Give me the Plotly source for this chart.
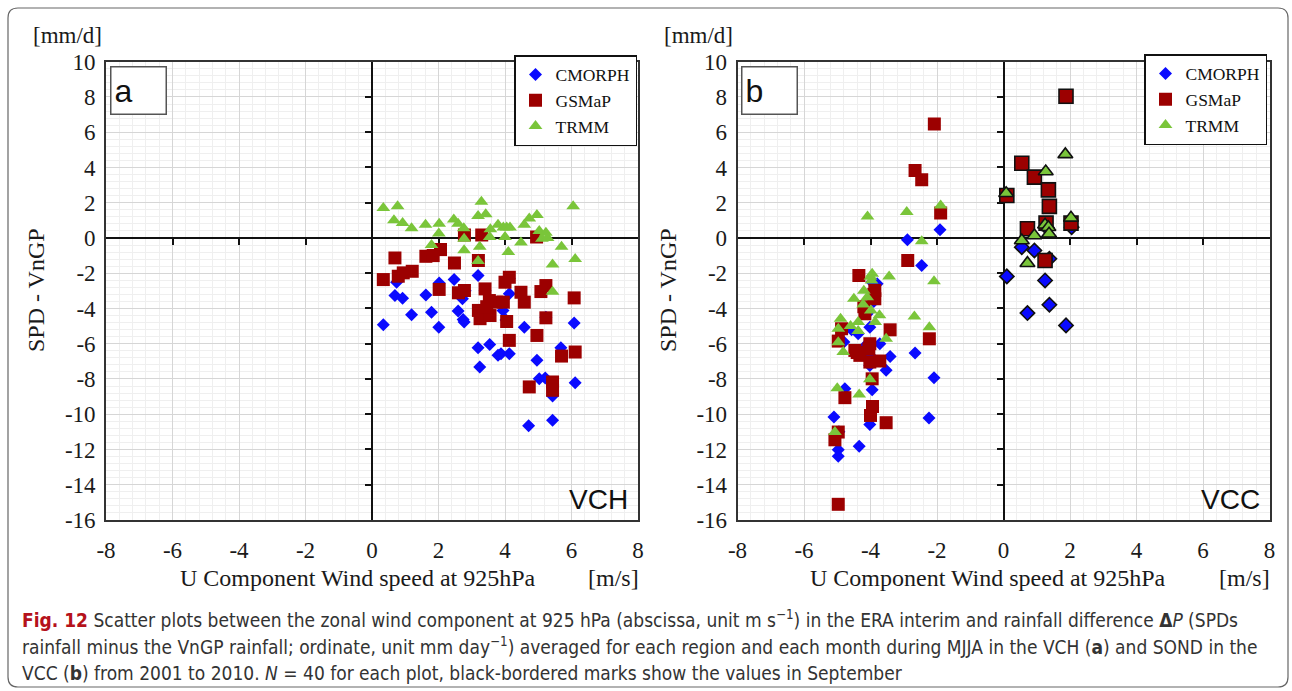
import plotly.graph_objects as go

W, H = 1292, 691

# ---------------- data ----------------
x_tickvals = [-8, -6, -4, -2, 0, 2, 4, 6, 8]
x_ticktext = ["-8", "-6", "-4", "-2", "0", "2", "4", "6", "8"]
y_tickvals = [-16, -14, -12, -10, -8, -6, -4, -2, 0, 2, 4, 6, 8, 10]
y_ticktext = ["-16", "-14", "-12", "-10", "-8", "-6", "-4", "-2", "0", "2", "4", "6", "8", "10"]
series_names = ["CMORPH", "GSMaP", "TRMM"]

# Panel a : VCH, MJJA
a_cmorph_x = [0.34, 0.69, 0.92, 0.74, 1.19, 1.62, 1.79, 2.01, 2.02, 2.47, 2.59, 2.74, 2.77, 2.72,
              3.19, 3.19, 3.54, 3.24, 3.79, 3.94, 3.88, 4.13, 4.13, 4.58, 4.96, 5.68, 5.03, 5.21,
              5.43, 6.08, 6.11, 4.71, 5.43, 4.13, 5.23, 2.80, 3.40, 3.60, 4.03, 5.70]
a_cmorph_y = [-4.92, -3.26, -3.42, -2.51, -4.36, -3.23, -4.21, -5.06, -2.55, -2.36, -4.15, -4.62, -4.77, -3.45,
              -2.13, -6.23, -6.04, -7.32, -6.66, -4.11, -6.57, -6.57, -3.17, -5.06, -6.94, -6.23, -7.98, -7.94,
              -8.96, -4.83, -8.21, -10.66, -10.34, -2.30, -4.50, -3.00, -3.00, -3.60, -4.65, -6.50]
a_gsmap_x = [0.34, 0.69, 0.79, 0.94, 1.21, 1.62, 1.84, 2.06, 2.02, 2.48, 2.60, 2.78, 2.78, 3.30,
             3.20, 3.40, 3.20, 3.25, 3.55, 3.53, 3.75, 3.95, 4.00, 4.05, 4.13, 4.13, 4.48, 4.58,
             5.23, 5.08, 4.95, 5.23, 4.96, 5.70, 6.11, 6.08, 4.73, 5.43, 5.43, 3.45]
a_gsmap_y = [-2.36, -1.13, -2.17, -1.98, -1.89, -1.04, -1.00, -0.66, -2.92, -1.42, -3.11, -2.98, 0.17, 0.17,
             -1.28, -2.89, -4.11, -4.58, -4.40, -3.55, -3.64, -3.64, -2.51, -4.74, -5.81, -2.23, -3.08, -3.64,
             -2.70, -3.04, 0.05, -4.53, -5.53, -6.70, -6.47, -3.40, -8.45, -8.17, -8.64, -3.90]
a_trmm_x = [0.34, 0.77, 0.66, 0.92, 1.19, 1.61, 2.02, 2.01, 1.79, 2.46, 2.59, 2.76, 2.77, 2.77,
            3.29, 3.19, 3.42, 3.24, 3.19, 3.56, 3.54, 3.79, 3.95, 4.00, 4.10, 4.05, 4.15, 4.48,
            4.58, 4.73, 4.96, 5.03, 5.23, 5.11, 5.28, 5.70, 5.43, 5.43, 6.05, 6.11]
a_trmm_y = [1.70, 1.80, 1.00, 0.85, 0.55, 0.75, 0.80, 0.25, -0.40, 1.05, 0.80, 0.55, -0.05, -0.70,
            2.05, 1.25, 1.35, -0.50, -1.30, 0.50, 0.05, 0.75, 0.60, 0.05, -0.80, 0.60, 0.60, -0.25,
            0.75, 1.10, 1.30, 0.40, 0.30, -0.05, 0.00, -0.50, -1.50, -3.05, 1.80, -1.20]

# Panel b : VCC, SOND (Oct, Nov, Dec)
b_cmorph_x = [-2.89, -1.91, -2.46, -4.57, -4.02, -4.37, -3.72, -3.41, -3.53, -4.02, -4.02, -2.66, -2.09, -4.77,
              -3.95, -5.10, -4.02, -2.24, -4.34, -4.97, -4.97, -3.80, -4.10, -4.20, -3.90, -4.80, -4.95, -4.00,
              -3.90, -3.96]
b_cmorph_y = [-0.10, 0.46, -1.56, -5.21, -5.06, -5.43, -6.00, -6.72, -7.51, -6.66, -7.23, -6.53, -7.93, -8.55,
              -8.61, -10.16, -10.58, -10.22, -11.82, -12.01, -12.39, -2.60, -4.30, -6.20, -7.00, -5.90, -11.00, -9.90,
              -3.60, -2.50]
b_gsmap_x = [-2.08, -2.66, -2.46, -1.89, -2.88, -4.35, -3.87, -3.87, -4.17, -4.87, -4.97, -3.41, -2.23, -4.47,
             -4.32, -4.02, -4.02, -3.72, -3.95, -4.77, -3.94, -4.00, -3.53, -4.97, -5.07, -4.97, -4.20, -4.05,
             -4.40, -3.90]
b_gsmap_y = [6.47, 3.83, 3.30, 1.41, -1.28, -2.13, -2.98, -3.45, -4.30, -5.15, -5.85, -5.21, -5.72, -6.38,
             -6.66, -6.00, -7.04, -6.98, -7.99, -9.06, -9.56, -10.07, -10.48, -11.01, -11.45, -15.11, -3.90, -6.30,
             -6.50, -3.20]
b_trmm_x = [-4.09, -2.91, -1.89, -2.46, -2.09, -3.44, -3.95, -3.97, -4.50, -4.10, -4.22, -3.99, -3.73, -3.86,
            -4.90, -4.97, -4.37, -4.37, -4.97, -4.82, -3.53, -2.68, -2.23, -4.02, -4.34, -5.00, -5.07, -4.00,
            -4.20, -4.60]
b_trmm_y = [1.22, 1.47, 1.84, -0.18, -2.45, -2.18, -2.03, -2.41, -3.45, -3.36, -3.78, -4.11, -4.39, -4.77,
            -4.58, -5.15, -4.77, -5.28, -5.91, -6.47, -5.72, -4.45, -5.06, -8.02, -8.88, -8.52, -11.01, -2.20,
            -3.00, -5.00]

# Panel b : September values (black-bordered marks)
b_cmorph_sep_x = [0.55, 0.93, 0.10, 1.25, 1.38, 0.72, 1.88, 2.05, 1.38, 1.30]
b_cmorph_sep_y = [-0.52, -0.71, -2.18, -2.41, -3.79, -4.26, -4.96, 0.61, -1.18, 0.60]
b_gsmap_sep_x = [1.88, 0.55, 0.93, 1.35, 1.38, 0.10, 0.72, 1.28, 2.03, 1.25]
b_gsmap_sep_y = [8.04, 4.24, 3.45, 2.73, 1.79, 2.41, 0.52, 0.84, 0.84, -1.28]
b_trmm_sep_x = [1.86, 1.27, 0.08, 2.03, 1.25, 1.35, 1.37, 0.93, 0.55, 0.72]
b_trmm_sep_y = [4.74, 3.77, 2.54, 1.14, 0.75, 0.61, 0.24, 0.14, -0.14, -1.43]

# ---------------- styles ----------------
SERIF = "Liberation Serif, Times New Roman, serif"
SANS = "Liberation Sans, Arial, sans-serif"
CAPFONT = "DejaVu Sans Condensed, DejaVu Sans, sans-serif"
COLORS = {"CMORPH": "#0a0aff", "GSMaP": "#9c0000", "TRMM": "#7ac53a"}
SYMBOLS = {"CMORPH": "diamond", "GSMaP": "square", "TRMM": "triangle-up"}
SIZES = {"CMORPH": 10, "GSMaP": 13, "TRMM": 12}
XR = [-8, 8]
YR = [-16, 10]


def px(x):
    return x / W


def py(y):
    return 1 - y / H


XA = [px(106), px(638)]
XB = [px(737.5), px(1269.5)]
YD = [py(520), py(61.7)]


def zero_pos(domain, rng):
    return domain[0] + (0 - rng[0]) / (rng[1] - rng[0]) * (domain[1] - domain[0])


def main_x(domain, anchor):
    return dict(domain=domain, range=XR, anchor=anchor, tickmode="array",
                tickvals=x_tickvals, ticktext=x_ticktext,
                showgrid=True, gridcolor="#d6d6d6", gridwidth=1,
                minor=dict(tickmode="linear", tick0=0, dtick=0.4, showgrid=True,
                           gridcolor="#efefef", gridwidth=1, ticks=""),
                showline=True, mirror=True, linecolor="#333333", linewidth=1.6,
                ticks="", zeroline=False, ticklabelstandoff=9, automargin=False,
                tickfont=dict(family=SERIF, size=23, color="#1a1a1a"), fixedrange=True)


def main_y(domain, anchor):
    return dict(domain=domain, range=YR, anchor=anchor, tickmode="array",
                tickvals=y_tickvals, ticktext=y_ticktext,
                showgrid=True, gridcolor="#d6d6d6", gridwidth=1,
                minor=dict(tickmode="linear", tick0=0, dtick=0.4, showgrid=True,
                           gridcolor="#efefef", gridwidth=1, ticks=""),
                showline=True, mirror=True, linecolor="#333333", linewidth=1.6,
                ticks="", zeroline=False, ticklabelstandoff=4, automargin=False,
                tickfont=dict(family=SERIF, size=23, color="#1a1a1a"), fixedrange=True)


def zero_x(overlay, position):
    return dict(overlaying=overlay, anchor="free", position=position, range=XR,
                tickmode="array", tickvals=x_tickvals[1:-1], showticklabels=False,
                ticks="outside", ticklen=6, tickwidth=1.5, tickcolor="#111",
                showline=True, linecolor="#111", linewidth=2, showgrid=False,
                zeroline=False, layer="below traces", fixedrange=True)


def zero_y(overlay, position):
    return dict(overlaying=overlay, anchor="free", position=position, range=YR,
                tickmode="array", tickvals=y_tickvals[1:-1], showticklabels=False,
                ticks="outside", ticklen=6, tickwidth=1.5, tickcolor="#111",
                showline=True, linecolor="#111", linewidth=2, showgrid=False,
                zeroline=False, layer="below traces", fixedrange=True)


fig = go.Figure()

# panel a traces
for name, xs, ys in [("CMORPH", a_cmorph_x, a_cmorph_y),
                     ("GSMaP", a_gsmap_x, a_gsmap_y),
                     ("TRMM", a_trmm_x, a_trmm_y)]:
    fig.add_trace(go.Scatter(x=xs, y=ys, mode="markers", name=name,
                             xaxis="x", yaxis="y", legend="legend",
                             marker=dict(symbol=SYMBOLS[name], size=SIZES[name],
                                         color=COLORS[name], line=dict(width=0))))

# panel b traces
for name, xs, ys, sx, sy in [("CMORPH", b_cmorph_x, b_cmorph_y, b_cmorph_sep_x, b_cmorph_sep_y),
                             ("GSMaP", b_gsmap_x, b_gsmap_y, b_gsmap_sep_x, b_gsmap_sep_y),
                             ("TRMM", b_trmm_x, b_trmm_y, b_trmm_sep_x, b_trmm_sep_y)]:
    fig.add_trace(go.Scatter(x=xs, y=ys, mode="markers", name=name,
                             xaxis="x2", yaxis="y2", legend="legend2",
                             marker=dict(symbol=SYMBOLS[name], size=SIZES[name],
                                         color=COLORS[name], line=dict(width=0))))
    fig.add_trace(go.Scatter(x=sx, y=sy, mode="markers", name=name + " (Sep)",
                             xaxis="x2", yaxis="y2", showlegend=False,
                             marker=dict(symbol=SYMBOLS[name], size=SIZES[name] + 1,
                                         color=COLORS[name], line=dict(width=1.6, color="#111"))))

# empty traces so the zero-crossing axes get drawn
fig.add_trace(go.Scatter(x=[], y=[], xaxis="x3", yaxis="y3", showlegend=False, hoverinfo="skip"))
fig.add_trace(go.Scatter(x=[], y=[], xaxis="x4", yaxis="y4", showlegend=False, hoverinfo="skip"))

legend_style = dict(bgcolor="white", bordercolor="#111", borderwidth=1.5,
                    font=dict(family=SERIF, size=17.5, color="#111"),
                    xanchor="right", yanchor="top", itemwidth=30, tracegroupgap=0)

annotations = []


def add_text(text, x, y, size=20, family=SERIF, xanchor="center", yanchor="middle", angle=0, **kw):
    annotations.append(dict(text=text, x=px(x), y=py(y), xref="paper", yref="paper",
                            xanchor=xanchor, yanchor=yanchor, showarrow=False, textangle=angle,
                            font=dict(family=family, size=size, color=kw.pop("color", "#1a1a1a")), **kw))


for off, vx, xt_c, mps_c, lab in [(0, 36, 358, 613, "a"), (631, 668, 988, 1244, "b")]:
    add_text("[mm/d]", 67 + off, 35, size=23)
    add_text("SPD - VnGP", vx, 290, size=24, angle=-90)
    add_text("U Component Wind speed at 925hPa", xt_c, 578, size=24)
    add_text("[m/s]", mps_c, 578, size=24)
    add_text(lab, 110 + off, 66, size=32, family=SANS, xanchor="left", yanchor="top",
             bordercolor="#555", borderwidth=1.5, borderpad=3, width=48, height=40,
             align="left", bgcolor="white", color="#111")

add_text("VCH", 630, 517, size=28, family=SANS, xanchor="right", yanchor="bottom", color="#111")
add_text("VCC", 1262, 517, size=28, family=SANS, xanchor="right", yanchor="bottom", color="#111")

cap1 = ('<span style="color:#b5121b"><b>Fig. 12</b></span> Scatter plots between the zonal wind component at '
        '925 hPa (abscissa, unit m s<sup>−1</sup>) in the ERA interim and rainfall difference '
        '<b>Δ</b><i>P</i> (SPDs')
cap2 = ('rainfall minus the VnGP rainfall; ordinate, unit mm day<sup>−1</sup>) averaged for each region and '
        'each month during MJJA in the VCH (<b>a</b>) and SOND in the')
cap3 = ('VCC (<b>b</b>) from 2001 to 2010. <i>N</i> = 40 for each plot, black-bordered marks show the values '
        'in September')
add_text(cap1, 20, 619, size=19, family=CAPFONT, xanchor="left", color="#333")
add_text(cap2, 20, 646, size=19, family=CAPFONT, xanchor="left", color="#333")
add_text(cap3, 20, 673, size=19, family=CAPFONT, xanchor="left", color="#333")

# rounded outer frame
L, R, T, B, rad = 8, 1288, 8, 687, 10
rx, ry = rad / W, rad / H
path = (f"M {px(L + rad)},{py(T)} L {px(R - rad)},{py(T)} Q {px(R)},{py(T)} {px(R)},{py(T) - ry} "
        f"L {px(R)},{py(B) + ry} Q {px(R)},{py(B)} {px(R) - rx},{py(B)} "
        f"L {px(L) + rx},{py(B)} Q {px(L)},{py(B)} {px(L)},{py(B) + ry} "
        f"L {px(L)},{py(T) - ry} Q {px(L)},{py(T)} {px(L) + rx},{py(T)} Z")

fig.update_layout(
    width=W, height=H, margin=dict(l=0, r=0, t=0, b=0),
    paper_bgcolor="white", plot_bgcolor="white", showlegend=True,
    xaxis=main_x(XA, "y"), yaxis=main_y(YD, "x"),
    xaxis2=main_x(XB, "y2"), yaxis2=main_y(YD, "x2"),
    xaxis3=zero_x("x", zero_pos(YD, YR)), yaxis3=zero_y("y", zero_pos(XA, XR)),
    xaxis4=zero_x("x2", zero_pos(YD, YR)), yaxis4=zero_y("y2", zero_pos(XB, XR)),
    legend=dict(x=px(637), y=py(55), **legend_style),
    legend2=dict(x=px(1267), y=py(54), **legend_style),
    annotations=annotations,
    shapes=[dict(type="path", path=path, xref="paper", yref="paper",
                 line=dict(color="#666", width=1.2), layer="above")],
)

fig.write_html("out.html", config={"displayModeBar": False},
               post_script="document.body.style.margin='0';document.body.style.overflow='hidden';")
